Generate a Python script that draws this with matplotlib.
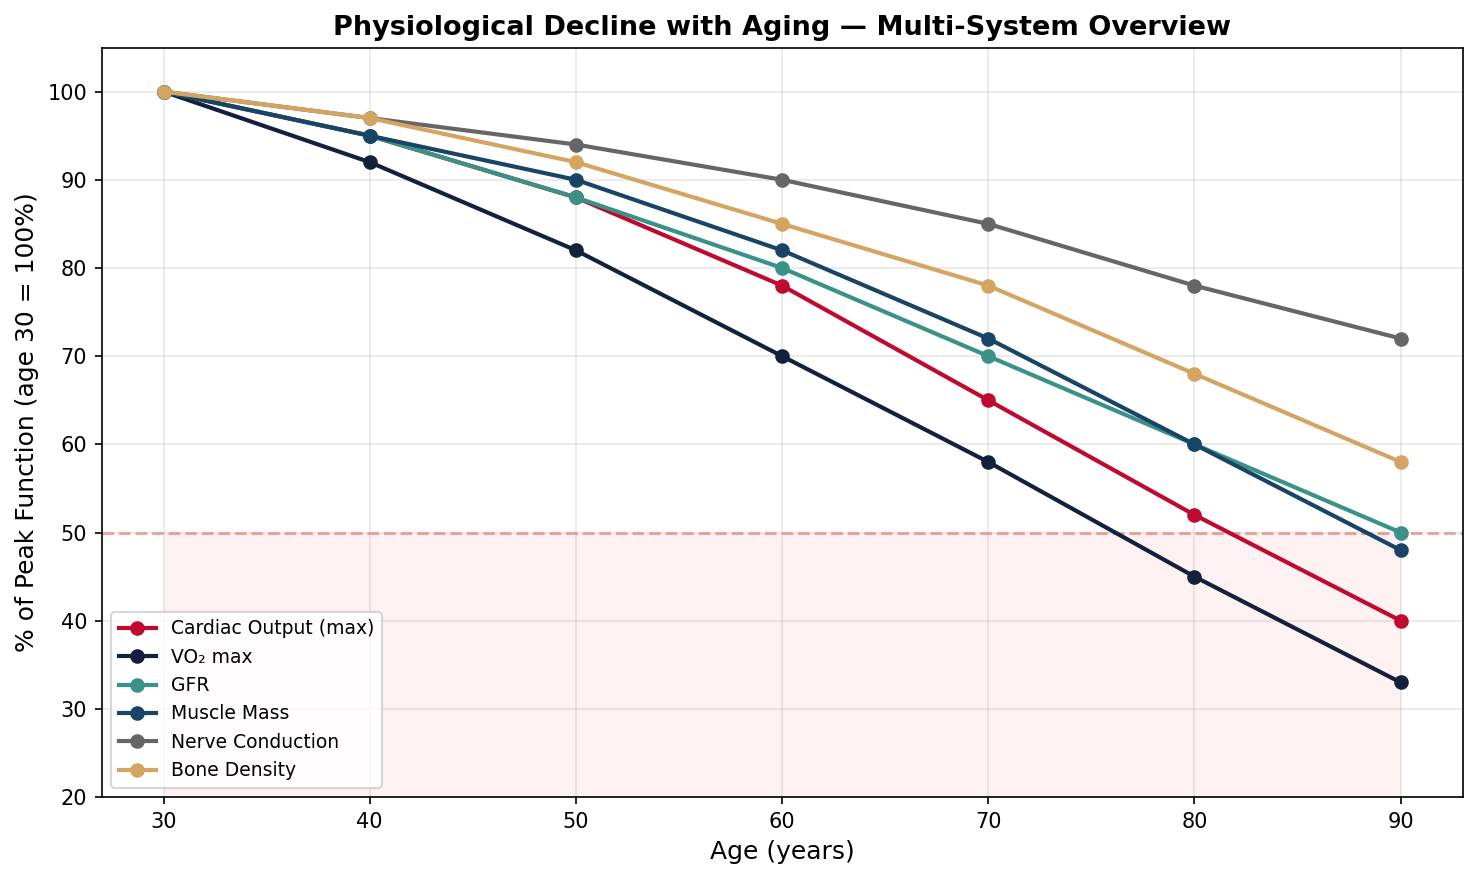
import numpy as np
import matplotlib
matplotlib.use("Agg")
import matplotlib.pyplot as plt

# ages and % of peak function (age 30 = 100%)
ages = [30, 40, 50, 60, 70, 80, 90]
cardiac = [100, 95, 88, 78, 65, 52, 40]
vo2 = [100, 92, 82, 70, 58, 45, 33]
gfr = [100, 95, 88, 80, 70, 60, 50]
muscle = [100, 95, 90, 82, 72, 60, 48]
nerve = [100, 97, 94, 90, 85, 78, 72]
bone = [100, 97, 92, 85, 78, 68, 58]

series = [
    ("Cardiac Output (max)", cardiac, "#C0092F"),
    ("VO\u2082 max", vo2, "#14213D"),
    ("GFR", gfr, "#3A9188"),
    ("Muscle Mass", muscle, "#184466"),
    ("Nerve Conduction", nerve, "#666666"),
    ("Bone Density", bone, "#D4A562"),
]

fig, ax = plt.subplots(figsize=(9.95, 5.96), dpi=150)

# shaded zone below 50%
ax.fill_between(ages, 0, 50, color="#E63946", alpha=0.07, linewidth=0, zorder=0)
ax.axhline(50, color="#E74C3C", linestyle="--", linewidth=1.5, alpha=0.5, zorder=1)

for name, vals, col in series:
    ax.plot(ages, vals, marker="o", color=col, linewidth=2, markersize=6, label=name, zorder=3)

ax.set_xlim(27, 93)
ax.set_ylim(20, 105)
ax.set_xticks(ages)
ax.set_yticks(np.arange(20, 101, 10))
ax.grid(True, alpha=0.3)
ax.set_xlabel("Age (years)", fontsize=12)
ax.set_ylabel("% of Peak Function (age 30 = 100%)", fontsize=12)
ax.set_title("Physiological Decline with Aging \u2014 Multi-System Overview",
             fontsize=13, fontweight="bold")
ax.legend(loc="lower left", fontsize=9)

plt.tight_layout()
plt.savefig("out.png", dpi=150, bbox_inches="tight")
